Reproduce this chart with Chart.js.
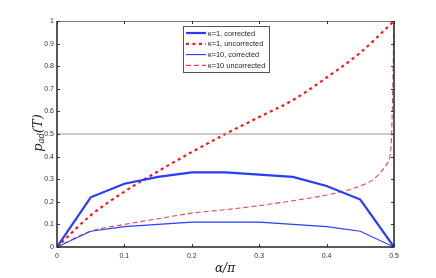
<!DOCTYPE html>
<html><head><meta charset="utf-8">
<script src="https://cdn.jsdelivr.net/npm/chart.js@4/dist/chart.umd.min.js"></script>
<style>html,body{margin:0;padding:0;background:#fff;}#wrap{width:436px;height:278px;position:relative;}</style>
</head><body><div id="wrap"><canvas id="c" width="436" height="278"></canvas></div>
<script>
const alphaGrid = [0, 0.05, 0.1, 0.15, 0.2, 0.25, 0.3, 0.35, 0.4, 0.45, 0.5];
const k1Corrected = [0, 0.22, 0.28, 0.31, 0.33, 0.33, 0.32, 0.31, 0.27, 0.21, 0];
const k1Uncorrected = [0, 0.14, 0.245, 0.335, 0.42, 0.5, 0.575, 0.65, 0.75, 0.86, 1.0];
const k10Corrected = [0, 0.07, 0.09, 0.10, 0.11, 0.11, 0.11, 0.10, 0.09, 0.07, 0];
const k10UncAlpha = [0, 0.05, 0.1, 0.15, 0.2, 0.25, 0.3, 0.35, 0.4, 0.45, 0.47, 0.48, 0.49, 0.494, 0.4965, 0.4985, 0.5];
const k10Uncorrected = [0, 0.07, 0.10, 0.125, 0.15, 0.165, 0.183, 0.205, 0.23, 0.27, 0.30, 0.33, 0.37, 0.40, 0.5, 0.75, 1.0];
const refAlpha = [0, 0.5];
const refLine = [0.5, 0.5];
const seriesLabels = ['\u03ba=1, corrected', '\u03ba=1, uncorrected', '\u03ba=10, corrected', '\u03ba=10 uncorrected'];
const xTicks = [0, 0.1, 0.2, 0.3, 0.4, 0.5];
const yTicks = [0, 0.1, 0.2, 0.3, 0.4, 0.5, 0.6, 0.7, 0.8, 0.9, 1];

const pts = (xs, ys) => xs.map((x, i) => ({x: x, y: ys[i]}));
const BLUE = 'rgb(40,60,255)';
const RED = 'rgb(255,20,20)';
const RED2 = 'rgb(235,70,70)';

const datasets = [
  {label: 'ref', data: pts(refAlpha, refLine), borderColor: '#9a9a9a', borderWidth: 1.2, pointRadius: 0, fill: false},
  {label: seriesLabels[0], data: pts(alphaGrid, k1Corrected), borderColor: BLUE, borderWidth: 2.2, pointRadius: 0, tension: 0},
  {label: seriesLabels[1], data: pts(alphaGrid, k1Uncorrected), borderColor: RED, borderWidth: 2.2, borderDash: [3, 3.5], pointRadius: 0, cubicInterpolationMode: 'monotone'},
  {label: seriesLabels[2], data: pts(alphaGrid, k10Corrected), borderColor: BLUE, borderWidth: 1.1, pointRadius: 0, tension: 0},
  {label: seriesLabels[3], data: pts(k10UncAlpha, k10Uncorrected), borderColor: RED2, borderWidth: 1.1, borderDash: [5, 3], pointRadius: 0, cubicInterpolationMode: 'monotone'}
];

const decor = {
  id: 'decor',
  afterDatasetsDraw(chart) {
    const ctx = chart.ctx, a = chart.chartArea, xs = chart.scales.x, ys = chart.scales.y;
    ctx.save();
    ctx.strokeStyle = '#777'; ctx.lineWidth = 1;
    ctx.beginPath(); ctx.moveTo(a.left, a.top + 0.5); ctx.lineTo(a.right, a.top + 0.5); ctx.stroke();
    ctx.strokeStyle = '#222'; ctx.lineWidth = 1.5;
    ctx.beginPath(); ctx.moveTo(a.left, a.top); ctx.lineTo(a.left, a.bottom); ctx.lineTo(a.right, a.bottom); ctx.lineTo(a.right, a.top); ctx.stroke();
    ctx.lineWidth = 1; ctx.strokeStyle = '#333';
    xTicks.forEach(v => { const px = Math.round(xs.getPixelForValue(v)) + 0.5;
      ctx.beginPath(); ctx.moveTo(px, a.bottom); ctx.lineTo(px, a.bottom - 3); ctx.moveTo(px, a.top); ctx.lineTo(px, a.top + 3); ctx.stroke(); });
    yTicks.forEach(v => { const py = Math.round(ys.getPixelForValue(v)) + 0.5;
      ctx.beginPath(); ctx.moveTo(a.left, py); ctx.lineTo(a.left + 3, py); ctx.moveTo(a.right, py); ctx.lineTo(a.right - 3, py); ctx.stroke(); });
    const lx = 183, ly = 26, lw = 86, lh = 46;
    ctx.fillStyle = '#fff'; ctx.fillRect(lx, ly, lw, lh);
    ctx.strokeStyle = '#555'; ctx.lineWidth = 1; ctx.strokeRect(lx + 0.5, ly + 0.5, lw, lh);
    const sets = [1, 2, 3, 4];
    ctx.font = '7.4px "Liberation Sans", Arial, sans-serif'; ctx.textBaseline = 'middle'; ctx.textAlign = 'left';
    sets.forEach((di, i) => {
      const d = datasets[di]; const yy = ly + 7 + i * 10.8;
      ctx.strokeStyle = d.borderColor; ctx.lineWidth = d.borderWidth; ctx.setLineDash(d.borderDash || []);
      ctx.beginPath(); ctx.moveTo(lx + 3, yy); ctx.lineTo(lx + 23, yy); ctx.stroke();
      ctx.setLineDash([]); ctx.fillStyle = '#222'; ctx.fillText(d.label, lx + 25, yy + 0.5);
    });
    ctx.fillStyle = '#222';
    ctx.font = 'italic 12px "DejaVu Serif", serif'; ctx.textAlign = 'left'; ctx.textBaseline = 'alphabetic';
    const t1 = '\u03b1/\u03c0'; const w1 = ctx.measureText(t1).width;
    ctx.fillText(t1, 225 - w1 / 2, 272);
    ctx.translate(42, 133); ctx.rotate(-Math.PI / 2);
    ctx.font = 'italic 13px "DejaVu Serif", serif';
    const wp = ctx.measureText('p').width;
    ctx.font = 'italic 8.5px "DejaVu Serif", serif';
    const wa = ctx.measureText('ad').width;
    ctx.font = 'italic 13px "DejaVu Serif", serif';
    const wt = ctx.measureText('(T)').width;
    let x0 = -(wp + wa + wt) / 2;
    ctx.fillText('p', x0, 0); x0 += wp;
    ctx.font = 'italic 8.5px "DejaVu Serif", serif'; ctx.fillText('ad', x0, 2); x0 += wa;
    ctx.font = 'italic 13px "DejaVu Serif", serif'; ctx.fillText('(T)', x0, 0);
    ctx.restore();
  }
};

new Chart(document.getElementById('c'), {
  type: 'line',
  data: {datasets: datasets},
  options: {
    responsive: false, animation: false, devicePixelRatio: 1,
    layout: {padding: {top: 21, right: 42, left: 0, bottom: 0}},
    plugins: {legend: {display: false}, tooltip: {enabled: false}},
    scales: {
      x: {type: 'linear', min: 0, max: 0.5,
        afterBuildTicks: s => { s.ticks = xTicks.map(v => ({value: v})); },
        afterFit: s => { s.height = 31; },
        grid: {display: false, drawTicks: false}, border: {display: false},
        ticks: {padding: 5, color: '#333', font: {size: 7, family: '"Liberation Sans", Arial, sans-serif'}, maxRotation: 0,
          callback: v => String(Math.round(v * 10) / 10)}},
      y: {type: 'linear', min: 0, max: 1,
        afterBuildTicks: s => { s.ticks = yTicks.map(v => ({value: v})); },
        afterFit: s => { s.width = 57; },
        grid: {display: false, drawTicks: false}, border: {display: false},
        ticks: {padding: 3, color: '#333', font: {size: 7, family: '"Liberation Sans", Arial, sans-serif'},
          callback: v => String(Math.round(v * 10) / 10)}}
    }
  },
  plugins: [decor]
});
</script></body></html>
